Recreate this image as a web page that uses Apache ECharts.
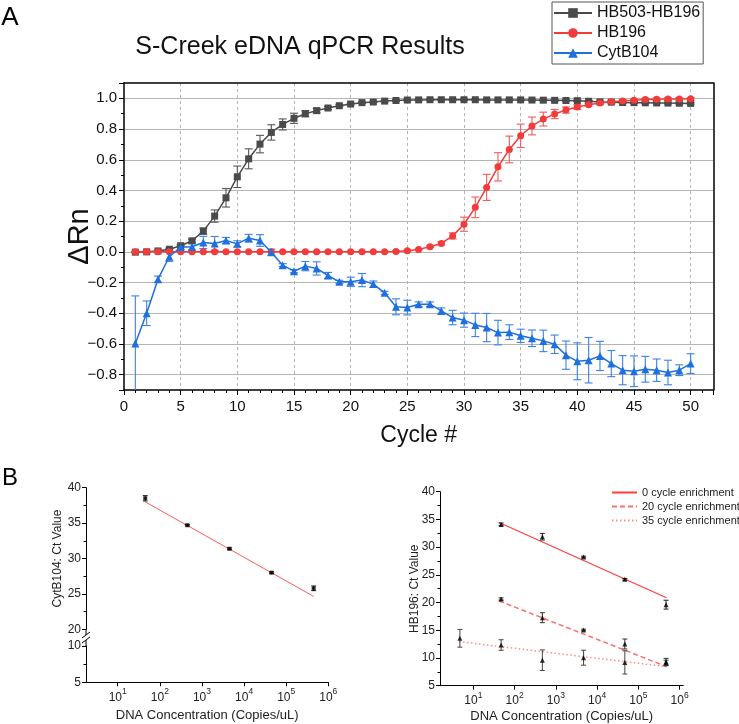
<!DOCTYPE html>
<html><head><meta charset="utf-8">
<script src="https://cdn.jsdelivr.net/npm/echarts@6/dist/echarts.min.js"></script>
<style>html,body{margin:0;padding:0;background:#fff}#c{width:739px;height:724px}</style>
</head><body><div id="c"></div>
<script>
// ---------- Panel A data ----------
const cycles = [1,2,3,4,5,6,7,8,9,10,11,12,13,14,15,16,17,18,19,20,21,22,23,24,25,26,27,28,29,30,31,32,33,34,35,36,37,38,39,40,41,42,43,44,45,46,47,48,49,50];
const hb503 = [-0.002,0.000,0.006,0.017,0.040,0.072,0.135,0.233,0.352,0.489,0.606,0.702,0.778,0.830,0.870,0.900,0.920,0.937,0.952,0.963,0.972,0.976,0.982,0.986,0.989,0.990,0.991,0.991,0.991,0.991,0.991,0.990,0.990,0.990,0.990,0.989,0.988,0.987,0.986,0.985,0.981,0.977,0.975,0.973,0.972,0.971,0.970,0.969,0.968,0.967];
const hb503Err = [0.005,0.005,0.005,0.005,0.005,0.010,0.020,0.040,0.060,0.070,0.065,0.057,0.050,0.036,0.033,0.020,0.015,0.010,0.006,0.006,0.005,0.005,0.005,0.005,0.005,0.005,0.005,0.005,0.005,0.005,0.005,0.005,0.005,0.005,0.005,0.005,0.005,0.005,0.005,0.005,0.005,0.005,0.005,0.005,0.005,0.005,0.005,0.005,0.005,0.005];
const hb196 = [0,0,0,0,0,0,0,0,0,0,0,0,0,0,0,0,0,0,0,0,0,0,0.001,0.003,0.007,0.016,0.033,0.055,0.104,0.180,0.290,0.420,0.554,0.667,0.756,0.820,0.865,0.898,0.924,0.943,0.958,0.970,0.978,0.983,0.988,0.992,0.994,0.995,0.996,0.997];
const hb196Err = [0.003,0.003,0.003,0.003,0.003,0.003,0.003,0.003,0.003,0.003,0.003,0.003,0.003,0.003,0.003,0.003,0.003,0.003,0.003,0.003,0.003,0.003,0.003,0.003,0.003,0.003,0.005,0.010,0.020,0.046,0.067,0.085,0.092,0.087,0.076,0.058,0.045,0.030,0.020,0.015,0.008,0.008,0.008,0.008,0.008,0.008,0.008,0.008,0.008,0.008];
const cytb = [-0.597,-0.400,-0.178,-0.032,0.030,0.033,0.061,0.055,0.074,0.052,0.089,0.074,-0.002,-0.087,-0.126,-0.093,-0.108,-0.154,-0.195,-0.195,-0.184,-0.210,-0.267,-0.358,-0.363,-0.341,-0.341,-0.385,-0.428,-0.445,-0.476,-0.493,-0.526,-0.523,-0.547,-0.563,-0.580,-0.602,-0.673,-0.713,-0.706,-0.678,-0.728,-0.771,-0.778,-0.765,-0.771,-0.786,-0.771,-0.728];
const cytbErr = [0.310,0.080,0.020,0.030,0.015,0.020,0.040,0.045,0.020,0.020,0.025,0.038,0.020,0.010,0.010,0.030,0.043,0.020,0.010,0.030,0.043,0.020,0.010,0.052,0.048,0.015,0.015,0.020,0.047,0.046,0.076,0.092,0.080,0.048,0.043,0.054,0.070,0.060,0.092,0.120,0.148,0.095,0.085,0.095,0.100,0.084,0.073,0.080,0.035,0.064];
const seriesNames = ['HB503-HB196','HB196','CytB104'];

// ---------- Panel B data ----------
const concLeft = [45, 450, 4500, 45000, 450000];
const cytbCt = [38.5, 34.7, 31.38, 28.0, 25.79];
const cytbCtErr = [0.38, 0.1, 0.12, 0.1, 0.33];
const cytbFitX = [45, 450000];
const cytbFitY = [38.0, 24.65];

const concRight = [4.7, 47, 470, 4700, 47000, 470000];
const hbCt0 = [null, 34.1, 31.88, 28.22, 24.19, 19.62];
const hbCt0Err = [null, 0.25, 0.6, 0.15, 0.15, 0.8];
const hbCt20 = [null, 20.64, 17.27, 15.05, 12.52, 9.33];
const hbCt20Err = [null, 0.2, 0.9, 0.15, 0.9, 0.6];
const hbCt35 = [13.55, 12.34, 9.6, 10.05, 9.2, 9.1];
const hbCt35Err = [1.6, 0.95, 1.86, 1.35, 2.1, 0.5];
const fit0X = [42, 480000], fit0Y = [34.43, 20.87];
const fit20X = [42, 490000], fit20Y = [20.29, 8.43];
const fit35X = [4.5, 490000], fit35Y = [12.95, 8.43];
const enrichNames = ['0 cycle enrichment', '20 cycle enrichment', '35 cycle enrichment'];

// ---------- helpers ----------
function zip3(xs, ys, es) {
  const out = [];
  for (let i = 0; i < xs.length; i++) if (ys[i] != null) out.push([xs[i], ys[i], es ? es[i] : 0]);
  return out;
}
function errRender(color, capHalf, width) {
  return function (params, api) {
    const x = api.value(0), y = api.value(1), e = api.value(2);
    const cs = params.coordSys;
    const pt = api.coord([x, y + e]);
    const pb = api.coord([x, y - e]);
    const yTop = cs.y, yBot = cs.y + cs.height;
    const t = Math.max(pt[1], yTop), b = Math.min(pb[1], yBot);
    const st = { stroke: color, lineWidth: width };
    const ch = [{ type: 'line', shape: { x1: pt[0], y1: t, x2: pt[0], y2: b }, style: st }];
    if (pt[1] >= yTop) ch.push({ type: 'line', shape: { x1: pt[0] - capHalf, y1: pt[1], x2: pt[0] + capHalf, y2: pt[1] }, style: st });
    if (pb[1] <= yBot) ch.push({ type: 'line', shape: { x1: pb[0] - capHalf, y1: pb[1], x2: pb[0] + capHalf, y2: pb[1] }, style: st });
    return { type: 'group', children: ch };
  };
}
const fontFam = '"Liberation Sans", Arial, sans-serif';
function logLabel(showMax) {
  return {
    fontFamily: fontFam, color: '#222', margin: 5, showMinLabel: false, showMaxLabel: showMax,
    formatter: v => { const n = Math.round(Math.log10(v)); return '{b|10}{s|' + n + '}'; },
    rich: {
      b: { fontSize: 12, fontFamily: fontFam, color: '#222', lineHeight: 16, verticalAlign: 'bottom' },
      s: { fontSize: 8.5, fontFamily: fontFam, color: '#222', lineHeight: 9, verticalAlign: 'top' }
    }
  };
}
const blackLine = { show: true, onZero: false, lineStyle: { color: '#000', width: 1 } };
const frameLine = { show: true, onZero: false, lineStyle: { color: '#000', width: 1.5 } };

const colors = { gray: '#4a4a4a', red: '#f23c3c', blue: '#1f6fde' };

const chart = echarts.init(document.getElementById('c'), null, { renderer: 'canvas' });
chart.setOption({
  animation: false,
  backgroundColor: '#fff',
  textStyle: { fontFamily: fontFam },
  graphic: [
    { type: 'text', style: { text: 'A', x: 10, y: 18, font: '26px ' + fontFam, fill: '#000', align: 'center', verticalAlign: 'middle' } },
    { type: 'text', style: { text: 'B', x: 10, y: 478, font: '24px ' + fontFam, fill: '#000', align: 'center', verticalAlign: 'middle' } },
    { type: 'text', style: { text: 'S-Creek eDNA qPCR Results', x: 300, y: 47, font: '25px ' + fontFam, fill: '#111', align: 'center', verticalAlign: 'middle' } },
    // axis-break marks on panel B left
    { type: 'line', shape: { x1: 86, y1: 629, x2: 86, y2: 635 }, style: { stroke: '#000', lineWidth: 1 } },
    { type: 'line', shape: { x1: 86, y1: 640, x2: 86, y2: 646 }, style: { stroke: '#000', lineWidth: 1 } },
    { type: 'line', shape: { x1: 82, y1: 638, x2: 90, y2: 632 }, style: { stroke: '#000', lineWidth: 1 } },
    { type: 'line', shape: { x1: 82, y1: 643, x2: 90, y2: 637 }, style: { stroke: '#000', lineWidth: 1 } }
  ],
  legend: [
    {
      data: seriesNames, orient: 'vertical', left: 552, top: 2, padding: [3, 3, 3, 1],
      itemWidth: 38, itemHeight: 12, itemGap: 4, borderColor: '#555', borderWidth: 1,
      textStyle: { fontSize: 16, color: '#111', fontFamily: fontFam }, selectedMode: false
    },
    {
      data: enrichNames, orient: 'vertical', left: 611, top: 487, padding: 0,
      itemWidth: 25, itemHeight: 8, itemGap: 3, itemStyle: { opacity: 0 },
      textStyle: { fontSize: 11, color: '#222', fontFamily: fontFam }, selectedMode: false
    }
  ],
  grid: [
    { left: 124, top: 83, width: 589.3, height: 307 },
    { left: 86, top: 487.7, width: 242.3, height: 141.6 },
    { left: 86, top: 646, width: 242.3, height: 36.3 },
    { left: 440, top: 491.7, width: 243.3, height: 194 }
  ],
  xAxis: [
    {
      gridIndex: 0, type: 'value', min: 0, max: 52, interval: 5,
      name: 'Cycle #', nameLocation: 'middle', nameGap: 34, nameMoveOverlap: false,
      nameTextStyle: { fontSize: 23, color: '#111', fontFamily: fontFam },
      axisLine: frameLine,
      axisTick: { show: true, length: 5, lineStyle: { color: '#000' } },
      minorTick: { show: true, splitNumber: 5, length: 3, lineStyle: { color: '#000' } },
      axisLabel: { fontSize: 15, color: '#111', margin: 9, showMaxLabel: false },
      splitLine: { show: true, showMinLine: false, showMaxLine: false, lineStyle: { color: '#b4b4b4', type: [3, 3], width: 1 } }
    },
    { gridIndex: 1, type: 'log', min: Math.pow(10, 0.247), max: 1e6, show: false },
    {
      gridIndex: 2, type: 'log', min: Math.pow(10, 0.247), max: 1e6,
      name: 'DNA Concentration (Copies/uL)', nameLocation: 'middle', nameGap: 27, nameMoveOverlap: false,
      nameTextStyle: { fontSize: 13, color: '#222', fontFamily: fontFam },
      axisLine: blackLine, axisTick: { show: true, length: 4, lineStyle: { color: '#000' } },
      axisLabel: logLabel(true), splitLine: { show: false }
    },
    {
      gridIndex: 3, type: 'log', min: Math.pow(10, 0.19), max: Math.pow(10, 6.09),
      name: 'DNA Concentration (Copies/uL)', nameLocation: 'middle', nameGap: 24, nameMoveOverlap: false,
      nameTextStyle: { fontSize: 13, color: '#222', fontFamily: fontFam },
      axisLine: blackLine, axisTick: { show: true, length: 4, lineStyle: { color: '#000' } },
      axisLabel: logLabel(false), splitLine: { show: false }
    },
    {
      gridIndex: 0, type: 'value', min: 0, max: 52, position: 'top',
      axisLine: frameLine, axisTick: { show: false }, axisLabel: { show: false }, splitLine: { show: false }
    }
  ],
  yAxis: [
    {
      gridIndex: 0, type: 'value', min: -0.9, max: 1.1, splitNumber: 10,
      name: 'ΔRn', nameLocation: 'middle', nameGap: 30, nameMoveOverlap: false,
      nameTextStyle: { fontSize: 29, color: '#111', fontFamily: fontFam },
      axisLine: frameLine,
      axisTick: { show: true, length: 5, lineStyle: { color: '#000' } },
      minorTick: { show: true, splitNumber: 2, length: 3, lineStyle: { color: '#000' } },
      axisLabel: { fontSize: 15, color: '#111', margin: 7, showMinLabel: false, showMaxLabel: false,
        formatter: v => v.toFixed(1).replace('-', '\u2212') },
      splitLine: { show: true, showMinLine: false, showMaxLine: false, lineStyle: { color: '#b4b4b4', width: 1, type: 'solid' } }
    },
    {
      gridIndex: 1, type: 'value', min: 20, max: 40, interval: 5,
      name: 'CytB104: Ct Value', nameLocation: 'middle', nameGap: 22, nameMoveOverlap: false,
      nameTextStyle: { fontSize: 12, color: '#222', fontFamily: fontFam },
      axisLine: blackLine, axisTick: { show: true, length: 4, lineStyle: { color: '#000' } },
      minorTick: { show: true, splitNumber: 2, length: 2.5, lineStyle: { color: '#000' } },
      axisLabel: { fontSize: 12, color: '#222', margin: 5 }, splitLine: { show: false }
    },
    {
      gridIndex: 2, type: 'value', min: 5, max: 10, interval: 5,
      axisLine: blackLine, axisTick: { show: true, length: 4, lineStyle: { color: '#000' } },
      minorTick: { show: true, splitNumber: 2, length: 2.5, lineStyle: { color: '#000' } },
      axisLabel: { fontSize: 12, color: '#222', margin: 5 }, splitLine: { show: false }
    },
    {
      gridIndex: 3, type: 'value', min: 5, max: 40, interval: 5,
      name: 'HB196: Ct Value', nameLocation: 'middle', nameGap: 19, nameMoveOverlap: false,
      nameTextStyle: { fontSize: 12, color: '#222', fontFamily: fontFam },
      axisLine: blackLine, axisTick: { show: true, length: 4, lineStyle: { color: '#000' } },
      minorTick: { show: true, splitNumber: 2, length: 2.5, lineStyle: { color: '#000' } },
      axisLabel: { fontSize: 12, color: '#222', margin: 5 }, splitLine: { show: false }
    },
    {
      gridIndex: 0, type: 'value', min: -0.9, max: 1.1, position: 'right',
      axisLine: frameLine, axisTick: { show: false }, axisLabel: { show: false }, splitLine: { show: false }
    }
  ],
  series: [
    { type: 'custom', name: 'e0', xAxisIndex: 0, yAxisIndex: 0, z: 2, renderItem: errRender('#555', 4, 1.1), data: zip3(cycles, hb503, hb503Err) },
    { type: 'custom', name: 'e1', xAxisIndex: 0, yAxisIndex: 0, z: 2, renderItem: errRender('#f35a5a', 4, 1.1), data: zip3(cycles, hb196, hb196Err) },
    { type: 'custom', name: 'e2', xAxisIndex: 0, yAxisIndex: 0, z: 2, renderItem: errRender('#3a82ea', 4, 1.1), data: zip3(cycles, cytb, cytbErr) },
    { type: 'line', name: seriesNames[0], xAxisIndex: 0, yAxisIndex: 0, z: 3, symbol: 'rect', symbolSize: 7,
      itemStyle: { color: colors.gray }, lineStyle: { color: colors.gray, width: 1.5 },
      data: cycles.map((c, i) => [c, hb503[i]]) },
    { type: 'line', name: seriesNames[1], xAxisIndex: 0, yAxisIndex: 0, z: 4, symbol: 'circle', symbolSize: 7,
      itemStyle: { color: colors.red }, lineStyle: { color: colors.red, width: 1.5 },
      data: cycles.map((c, i) => [c, hb196[i]]) },
    { type: 'line', name: seriesNames[2], xAxisIndex: 0, yAxisIndex: 0, z: 5, symbol: 'triangle', symbolSize: 8,
      itemStyle: { color: colors.blue }, lineStyle: { color: colors.blue, width: 1.5 },
      data: cycles.map((c, i) => [c, cytb[i]]) },
    { type: 'line', name: 'cytbFit', xAxisIndex: 1, yAxisIndex: 1, showSymbol: false, z: 2,
      lineStyle: { color: '#ff5a5a', width: 1 }, data: cytbFitX.map((x, i) => [x, cytbFitY[i]]) },
    { type: 'custom', name: 'eL', xAxisIndex: 1, yAxisIndex: 1, z: 3, renderItem: errRender('#222', 2.5, 1), data: zip3(concLeft, cytbCt, cytbCtErr) },
    { type: 'scatter', name: 'ptsL', xAxisIndex: 1, yAxisIndex: 1, z: 4, symbol: 'rect', symbolSize: 4,
      itemStyle: { color: '#000' }, data: zip3(concLeft, cytbCt) },
    { type: 'line', name: enrichNames[0], xAxisIndex: 3, yAxisIndex: 3, showSymbol: false, symbol: 'none', z: 2,
      itemStyle: { color: '#ff3d3d' }, lineStyle: { color: '#ff3d3d', width: 1.2 }, data: fit0X.map((x, i) => [x, fit0Y[i]]) },
    { type: 'line', name: enrichNames[1], xAxisIndex: 3, yAxisIndex: 3, showSymbol: false, symbol: 'none', z: 2,
      itemStyle: { color: '#ff6e6e' }, lineStyle: { color: '#ff6e6e', width: 1.5, type: [5, 3] }, data: fit20X.map((x, i) => [x, fit20Y[i]]) },
    { type: 'line', name: enrichNames[2], xAxisIndex: 3, yAxisIndex: 3, showSymbol: false, symbol: 'none', z: 2,
      itemStyle: { color: '#ff8a8a' }, lineStyle: { color: '#ff8a8a', width: 1.5, type: [1.5, 2.5] }, data: fit35X.map((x, i) => [x, fit35Y[i]]) },
    { type: 'custom', name: 'eR0', xAxisIndex: 3, yAxisIndex: 3, z: 3, renderItem: errRender('#222', 2.5, 1), data: zip3(concRight, hbCt0, hbCt0Err) },
    { type: 'custom', name: 'eR1', xAxisIndex: 3, yAxisIndex: 3, z: 3, renderItem: errRender('#333', 2.5, 1), data: zip3(concRight, hbCt20, hbCt20Err) },
    { type: 'custom', name: 'eR2', xAxisIndex: 3, yAxisIndex: 3, z: 3, renderItem: errRender('#444', 2.5, 1), data: zip3(concRight, hbCt35, hbCt35Err) },
    { type: 'scatter', name: 'pR0', xAxisIndex: 3, yAxisIndex: 3, z: 4, symbol: 'triangle', symbolSize: 5, itemStyle: { color: '#000' }, data: zip3(concRight, hbCt0) },
    { type: 'scatter', name: 'pR1', xAxisIndex: 3, yAxisIndex: 3, z: 4, symbol: 'triangle', symbolSize: 5, itemStyle: { color: '#000' }, data: zip3(concRight, hbCt20) },
    { type: 'scatter', name: 'pR2', xAxisIndex: 3, yAxisIndex: 3, z: 4, symbol: 'triangle', symbolSize: 5, itemStyle: { color: '#000' }, data: zip3(concRight, hbCt35) }
  ]
});
</script>
</body></html>
